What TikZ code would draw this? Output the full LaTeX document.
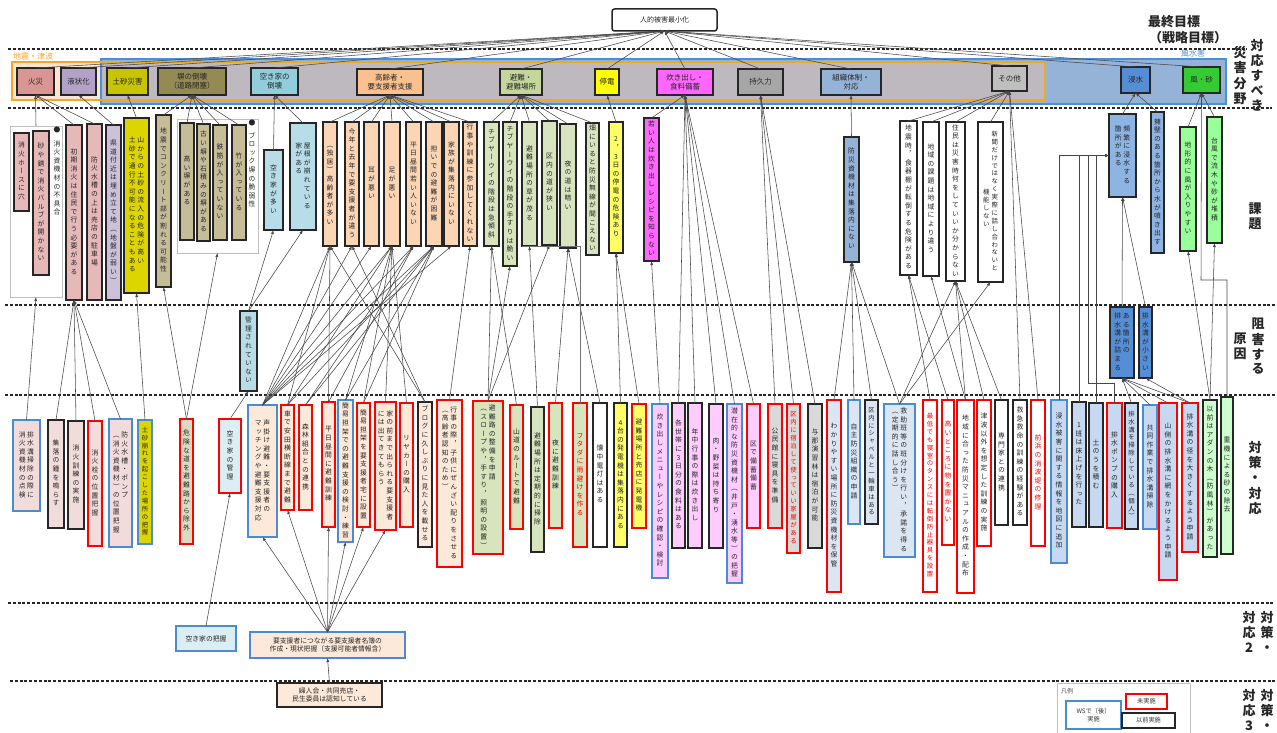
\documentclass[tikz,border=0pt]{standalone}
\usepackage{fontspec}
\setmainfont{Noto Sans CJK JP}
\newfontfamily\vfont[RawFeature=+vert]{Noto Sans CJK JP}
\usetikzlibrary{arrows.meta}

% stack the characters of a string vertically, one per row
\ExplSyntaxOn
\tl_new:N \l__vt_tl
\bool_new:N \l__vt_first_bool
\NewDocumentCommand \vt { m }
 {
  \tl_clear:N \l__vt_tl
  \bool_set_true:N \l__vt_first_bool
  \tl_map_inline:nn { #1 }
   {
    \bool_if:NTF \l__vt_first_bool
     { \bool_set_false:N \l__vt_first_bool }
     { \tl_put_right:Nn \l__vt_tl { \\ } }
    \tl_put_right:Nn \l__vt_tl { ##1 }
   }
  \begin{tabular}[t]{@{}c@{}} \l__vt_tl \end{tabular}
 }
\ExplSyntaxOff

% box from its corners: style, name, x1, y1, x2, y2, text
\newcommand\mkbox[7]{\node[#1,minimum width={(#5-#3)*1pt},minimum height={(#6-#4)*1pt}] (#2) at ({(#3+#5)/2},{(#4+#6)/2}) {#7};}
\newcommand\two[2]{\vt{#2}\hspace{1.5pt}\vt{#1}}

\definecolor{fireC}{HTML}{D99694}
\definecolor{fireI}{HTML}{E6B9B8}
\definecolor{fireM}{HTML}{F2DCDB}
\definecolor{liqC}{HTML}{B3A2C7}
\definecolor{liqI}{HTML}{CCC0DA}
\definecolor{sandC}{HTML}{C8C400}
\definecolor{sandI}{HTML}{DDD500}
\definecolor{wallC}{HTML}{948A54}
\definecolor{wallI}{HTML}{C4BD97}
\definecolor{wallM}{HTML}{DDD9C3}
\definecolor{vacC}{HTML}{92CDDC}
\definecolor{vacI}{HTML}{B7DEE8}
\definecolor{vacM}{HTML}{DAEEF3}
\definecolor{eldC}{HTML}{FAC090}
\definecolor{eldI}{HTML}{FCD5B5}
\definecolor{eldM}{HTML}{FDE9D9}
\definecolor{evaC}{HTML}{C3D69B}
\definecolor{evaI}{HTML}{D7E4BD}
\definecolor{powC}{HTML}{FFFF00}
\definecolor{powI}{HTML}{FFFF66}
\definecolor{cookC}{HTML}{FF66FF}
\definecolor{cookM}{HTML}{FFCCFF}
\definecolor{endC}{HTML}{A6A6A6}
\definecolor{endM}{HTML}{D9D9D9}
\definecolor{orgC}{HTML}{95B3D7}
\definecolor{orgM}{HTML}{DCE6F2}
\definecolor{othC}{HTML}{BFBFBF}
\definecolor{floC}{HTML}{558ED5}
\definecolor{floI}{HTML}{8DB4E2}
\definecolor{floM}{HTML}{C6D9F1}
\definecolor{winC}{HTML}{33CC33}
\definecolor{winI}{HTML}{99FF99}
\definecolor{winM}{HTML}{CCFFCC}
\definecolor{cmblue}{HTML}{4A8CD0}
\definecolor{regOrange}{HTML}{F5A623}
\definecolor{regBlue}{HTML}{4A90D9}
\definecolor{regBlueFill}{HTML}{95B3D7}
\definecolor{regGray}{HTML}{BEB8BF}
\definecolor{regPeach}{HTML}{FDE4D0}

\tikzset{
  basebox/.style={rectangle, inner sep=0pt, outer sep=0pt, align=center,
    font=\vfont\fontsize{6.8}{8.6}\selectfont, text=black!85},
  catbox/.style={basebox, draw=black!85, line width=1.5pt, font=\fontsize{7.5}{9}\selectfont},
  issbox/.style={basebox, draw=black!85, line width=1.3pt},
  grpbox/.style={basebox, draw=black!25, line width=0.9pt, fill=white},
  cR/.style={basebox, draw=red, line width=1.3pt},
  cB/.style={basebox, draw=cmblue, line width=1.3pt},
  cK/.style={basebox, draw=black!85, line width=1.3pt},
  rt/.style={text=red},
  tt8/.style={font=\vfont\fontsize{6.4}{7.9}\selectfont},
  lgd/.style={rectangle, inner sep=0pt, fill=white, line width=1.2pt, align=center,
    font=\fontsize{6.2}{7.5}\selectfont, text=black!80},
  conn/.style={draw=black!72, line width=0.55pt, -{Latex[length=4pt,width=3pt]}},
  connx/.style={draw=black!55, line width=0.55pt},
  dashsep/.style={draw=black!85, dash pattern=on 3pt off 1.8pt, line width=1.2pt},
  lab/.style={inner sep=0pt, align=center, font=\bfseries\fontsize{13}{15}\selectfont, text=black!85},
  vlab/.style={inner sep=0pt, anchor=north, font=\vfont\bfseries\fontsize{13}{14.6}\selectfont, text=black!85},
}

\begin{document}
\begin{tikzpicture}[x=1pt,y=-1pt]
\useasboundingbox (0,0) rectangle (1277,733);
\fill[white] (0,0) rectangle (1277,733);

% ---------- disaster field bands ----------
\fill[regBlueFill] (101,59) rectangle (1226,104);
\fill[regPeach] (12,62) rectangle (101,100);
\fill[regGray] (101,62) rectangle (1045,100);
\draw[regBlue, line width=1.1pt] (101,59) rectangle (1226,104);
\draw[regOrange, line width=1.1pt] (12,62) rectangle (1045,100);
\node[anchor=south west, inner sep=0pt, text=regOrange, font=\fontsize{8}{9}\selectfont] at (13,60) {地震・津波};
\node[anchor=south west, inner sep=0pt, text=regBlue, font=\fontsize{8}{9}\selectfont] at (1181,57) {風水害};

% ---------- separators ----------
\draw[dashsep] (8,49) -- (1247,49);
\draw[dashsep] (8,108) -- (1272,108);
\draw[dashsep] (5,305) -- (1275,305);
\draw[dashsep] (5,395) -- (1275,395);
\draw[dashsep] (8,603) -- (1275,603);
\draw[dashsep] (10,681) -- (1275,681);

% ---------- row labels ----------
\node[lab] at (1174,22) {最終目標};
\node[lab] at (1188,38) {（戦略目標）};
\node[vlab] at (1257,39) {\vt{対応すべき}};
\node[vlab] at (1240,46) {\vt{災害分野}};
\node[vlab] at (1255,203) {\vt{課題}};
\node[vlab] at (1258,318) {\vt{阻害する}};
\node[vlab] at (1240,333) {\vt{原因}};
\node[vlab] at (1255,441) {\vt{対策・対応}};
\node[vlab] at (1267,611) {\vt{対策・}};
\node[vlab] at (1249,611) {\vt{対応2}};
\node[vlab] at (1267,689) {\vt{対策・}};
\node[vlab] at (1249,689) {\vt{対応3}};

% ---------- goal ----------
\mkbox{catbox,fill=white,rounded corners=2.5pt,font=\fontsize{7}{8}\selectfont}{goal}{612}{9}{717}{31}{人的被害最小化}

% ---------- disaster categories ----------
\mkbox{catbox,fill=fireC}{fire}{17}{68}{54}{95}{火災}
\mkbox{catbox,fill=liqC}{liq}{61}{68}{96}{95}{液状化}
\mkbox{catbox,fill=sandC}{sand}{107}{68}{148}{95}{土砂災害}
\mkbox{catbox,fill=wallC}{wall}{158}{68}{226}{95}{塀の倒壊\\（道路閉塞）}
\mkbox{catbox,fill=vacC}{vac}{251}{68}{298}{95}{空き家の\\倒壊}
\mkbox{catbox,fill=eldC}{eld}{357}{69}{423}{95}{高齢者・\\要支援者支援}
\mkbox{catbox,fill=evaC}{eva}{500}{69}{542}{95}{避難・\\避難場所}
\mkbox{catbox,fill=powC}{pow}{595}{69}{619}{95}{停電}
\mkbox{catbox,fill=cookC}{cook}{657}{69}{713}{95}{炊き出し・\\食料備蓄}
\mkbox{catbox,fill=endC}{endu}{738}{69}{783}{95}{持久力}
\mkbox{catbox,fill=orgC}{org}{821}{69}{881}{95}{組織体制・\\対応}
\mkbox{catbox,fill=othC}{oth}{992}{66}{1027}{91}{その他}
\mkbox{catbox,fill=floC}{flood}{1121}{67}{1150}{93}{浸水}
\mkbox{catbox,fill=winC}{wind}{1183}{67}{1220}{93}{風・砂}

% ---------- issues ----------
\mkbox{grpbox}{gA}{10}{126}{62}{297}{}
\mkbox{issbox,fill=fireI}{iHose}{14}{133}{29}{211}{\vt{消火ホースに穴}}
\mkbox{issbox,fill=fireI}{iValve}{33}{131}{49}{275}{\vt{砂や錆で消火バルブが開かない}}
\node[basebox, anchor=north] (bulA) at (57,126) {\vt{●}};
\node[basebox, anchor=north] (txtA) at (57,140) {\vt{消火資機材の不具合}};
\mkbox{issbox,fill=fireI}{iInit}{66}{125}{82}{300}{\vt{初期消火は住民で行う必要がある}}
\mkbox{issbox,fill=fireI}{iTank}{87}{124}{102}{300}{\vt{防火水槽の上は売店の駐車場}}
\mkbox{issbox,fill=liqI}{iPref}{106}{125}{121}{300}{\vt{県道付近は埋め立て地（地盤が弱い）}}
\mkbox{issbox,fill=sandI}{iMount}{124}{118}{149}{293}{\two{山からの土砂の流入の危険が高い}{土砂で通行不可能になることもある}}
\mkbox{issbox,fill=wallI}{iConc}{156}{115}{171}{287}{\vt{地震でコンクリート部が割れる可能性}}
\mkbox{grpbox}{gB}{177}{119}{258}{253}{}
\mkbox{issbox,fill=wallI}{iHigh}{180}{123}{194}{240}{\vt{高い塀がある}}
\mkbox{issbox,fill=wallI}{iOld}{197}{124}{210}{241}{\vt{古い塀や石積みの塀がある}}
\mkbox{issbox,fill=wallI}{iIron}{213}{125}{227}{240}{\vt{鉄筋が入っていない}}
\mkbox{issbox,fill=wallI}{iBamb}{232}{125}{246}{240}{\vt{竹が入っている}}
\node[basebox, anchor=north] (bulB) at (252,119) {\vt{●}};
\node[basebox, anchor=north] (txtB) at (252,132) {\vt{ブロック塀の脆弱性}};
\mkbox{issbox,fill=vacI}{iMany}{264}{150}{283}{230}{\vt{空き家が多い}}
\mkbox{issbox,fill=vacI}{iRoof}{290}{123}{316}{230}{\two{屋根が崩れている}{家がある}}
\mkbox{issbox,fill=eldI}{e1}{323}{122}{337}{246}{\vt{（独居）高齢者が多い}}
\mkbox{issbox,fill=eldI}{e2}{345}{122}{359}{246}{\vt{今年と去年で要支援者が違う}}
\mkbox{issbox,fill=eldI}{e3}{364}{122}{379}{246}{\vt{耳が悪い}}
\mkbox{issbox,fill=eldI}{e4}{384}{122}{400}{246}{\vt{足が悪い}}
\mkbox{issbox,fill=eldI}{e5}{406}{122}{421}{246}{\vt{平日昼間若い人いない}}
\mkbox{issbox,fill=eldI}{e6}{426}{122}{442}{246}{\vt{担いでの避難が困難}}
\mkbox{issbox,fill=eldI}{e7}{444}{122}{459}{246}{\vt{家族が集落内にいない}}
\mkbox{issbox,fill=eldI}{e8}{463}{122}{477}{246}{\vt{行事や訓練に参加してくれない}}
\mkbox{issbox,fill=evaI}{v1}{484}{122}{499}{246}{\vt{チブヤーウイの階段は急傾斜}}
\mkbox{issbox,fill=evaI}{v2}{503}{122}{517}{266}{\vt{チブヤーウイの階段の手すりは脆い}}
\mkbox{issbox,fill=evaI}{v3}{522}{122}{537}{246}{\vt{避難場所の草が茂る}}
\mkbox{issbox,fill=evaI}{v4}{542}{121}{557}{245}{\vt{区内の道が狭い}}
\mkbox{issbox,fill=evaI}{v5}{560}{124}{576}{248}{\vt{夜の道は暗い}}
\mkbox{issbox,fill=evaI}{v6}{586}{123}{599}{255}{\vt{畑にいると防災無線が聞こえない}}
\mkbox{issbox,fill=powI}{p1}{609}{122}{623}{253}{\vt{2，3日の停電の危険あり}}
\mkbox{issbox,fill=cookC}{c1}{644}{118}{659}{261}{\vt{若い人は炊き出しレシピを知らない}}
\mkbox{issbox,fill=orgC}{o1}{844}{137}{859}{262}{\vt{防災資機材は集落内にない}}
\mkbox{issbox,fill=white}{x1}{900}{121}{917}{275}{\vt{地震時，食器棚が転倒する危険がある}}
\mkbox{issbox,fill=white}{x2}{923}{122}{939}{276}{\vt{地域の課題は地域により違う}}
\mkbox{issbox,fill=white}{x3}{946}{122}{965}{281}{\vt{住民は災害時何をしていいか分からない}}
\mkbox{issbox,fill=white,tt8}{x4}{978}{122}{1003}{282}{\raisebox{-58pt}{\vt{機能しない}}\hspace{2pt}\vt{新聞だけではなく実際に話し合わないと}}
\mkbox{issbox,fill=floI}{f1}{1109}{114}{1136}{197}{\two{頻繁に浸水する}{箇所がある}}
\mkbox{issbox,fill=floI}{f2}{1151}{112}{1164}{253}{\vt{擁壁のある箇所から水が噴き出す}}
\mkbox{issbox,fill=winI}{w1}{1180}{127}{1196}{251}{\vt{地形的に風が入りやすい}}
\mkbox{issbox,fill=winI}{w2}{1207}{117}{1222}{243}{\vt{台風で流木や砂が堆積}}

% ---------- obstacles ----------
\mkbox{issbox,fill=vacI}{b1}{240}{311}{257}{391}{\vt{管理されていない}}
\mkbox{issbox,fill=floC}{b2}{1110}{307}{1134}{378}{\two{ある箇所の}{排水溝が詰まる}}
\mkbox{issbox,fill=floC}{b3}{1139}{307}{1152}{378}{\vt{排水溝が小さい}}

% ---------- countermeasures ----------
\mkbox{cB,fill=fireM}{m1}{13}{420}{40}{511}{\two{排水溝掃除の際に}{消火資機材の点検}}
\mkbox{cK,fill=fireM}{m2}{48}{420}{64}{528}{\vt{集落の鐘を鳴らす}}
\mkbox{cK,fill=fireM}{m3}{68}{421}{84}{529}{\vt{消火訓練の実施}}
\mkbox{cR,fill=fireM}{m4}{88}{421}{102}{546}{\vt{消火栓の位置把握}}
\mkbox{cB,fill=fireM}{m5}{109}{419}{132}{547}{\two{防火水槽・ポンプ}{（消火資機材）の位置把握}}
\mkbox{cB,fill=sandI,tt8}{m6}{138}{420}{152}{544}{\vt{土砂崩れを起こした場所の把握}}
\mkbox{cR,fill=wallM}{m7}{180}{419}{193}{544}{\vt{危険な道を避難路から除外}}
\mkbox{cR,fill=vacM}{m8}{219}{419}{241}{493}{\vt{空き家の管理}}
\mkbox{cB,fill=eldM}{m9}{248}{405}{277}{537}{\two{声掛け避難・要支援者の}{マッチングや避難支援対応}}
\mkbox{cR,fill=eldM}{m10}{281}{405}{294}{510}{\vt{車で安田横断線まで避難}}
\mkbox{cR,fill=eldM}{m11}{299}{405}{312}{510}{\vt{森林組合との連携}}
\mkbox{cR,fill=eldM}{m12}{322}{402}{335}{527}{\vt{平日昼間に避難訓練}}
\mkbox{cB,fill=eldM}{m13}{338}{400}{353}{542}{\vt{簡易担架での避難支援の検討・練習}}
\mkbox{cR,fill=eldM}{m14}{357}{403}{370}{527}{\vt{簡易担架を要支援者宅に設置}}
\mkbox{cR,fill=eldM}{m15}{375}{402}{396}{530}{\two{家の前まで出られる要支援者}{には出てきてもらう}}
\mkbox{cR,fill=eldM}{m16}{400}{403}{413}{527}{\vt{リヤカーの購入}}
\mkbox{cK,fill=eldM}{m17}{418}{402}{432}{547}{\vt{ブログに久しぶりに見た人を載せる}}
\mkbox{cR,fill=eldM}{m18}{437}{400}{462}{567}{\two{行事の際，子供にぜんざい配りをさせる}{（高齢者認知のため）}}
\mkbox{cR,fill=evaI}{m19}{473}{401}{503}{554}{\two{避難路の整備を申請}{（スロープや，手すり，照明の設置）}}
\mkbox{cR,fill=evaI}{m20}{510}{405}{523}{529}{\vt{山道のルートで避難}}
\mkbox{cK,fill=evaI}{m21}{531}{407}{544}{552}{\vt{避難場所は定期的に掃除}}
\mkbox{cR,fill=evaI}{m22}{549}{403}{562}{528}{\vt{夜に避難訓練}}
\mkbox{cR,fill=evaI,rt}{m23}{573}{403}{587}{547}{\vt{フタダに雨避けを作る}}
\mkbox{cK,fill=white}{m24}{593}{403}{607}{547}{\vt{懐中電灯はある}}
\mkbox{cK,fill=powI}{m25}{614}{403}{627}{547}{\vt{4台の発電機は集落内にある}}
\mkbox{cR,fill=powI}{m26}{632}{404}{646}{528}{\vt{避難場所と売店に発電機}}
\mkbox{cB,fill=cookM}{m27}{652}{404}{668}{578}{\vt{炊き出しメニューやレシピの確認・検討}}
\mkbox{cK,fill=cookM}{m28}{672}{403}{685}{548}{\vt{各世帯に3日分の食料はある}}
\mkbox{cK,fill=cookM}{m29}{688}{403}{702}{548}{\vt{年中行事の際は炊き出し}}
\mkbox{cK,fill=cookM}{m30}{709}{404}{723}{548}{\vt{肉・野菜は持ち寄り}}
\mkbox{cB,fill=cookM}{m31}{727}{404}{742}{583}{\vt{潜在的な防災資機材（井戸・湧水等）の把握}}
\mkbox{cR,fill=cookM}{m32}{747}{404}{760}{528}{\vt{区で備蓄備蓄}}
\mkbox{cR,fill=endM}{m33}{768}{404}{782}{528}{\vt{公民館に寝具を準備}}
\mkbox{cR,fill=endM,rt,tt8}{m34}{787}{404}{800}{553}{\vt{区内に宿泊して使っていい家屋がある}}
\mkbox{cK,fill=endM}{m35}{808}{404}{822}{548}{\vt{与那演習林は宿泊が可能}}
\mkbox{cR,fill=orgM}{m36}{827}{400}{841}{592}{\vt{わかりやすい場所に防災資機材を保管}}
\mkbox{cB,fill=orgM}{m37}{848}{400}{860}{524}{\vt{自主防災組織の申請}}
\mkbox{cK,fill=orgM,tt8}{m38}{865}{400}{878}{524}{\vt{区内にシャベルと一輪車はある}}
\mkbox{cB,fill=orgM}{m39}{884}{404}{915}{557}{\two{救助班等の班分けを行い，承諾を得る}{（定期的に話し合う）}}
\mkbox{cR,fill=white,rt,tt8}{m40}{923}{400}{937}{592}{\vt{最低でも寝室のタンスには転倒防止器具を設置}}
\mkbox{cR,fill=white,rt}{m41}{942}{400}{954}{545}{\vt{高いところに物を置かない}}
\mkbox{cR,fill=white}{m42}{957}{400}{974}{593}{\vt{地域に合った防災マニュアルの作成・配布}}
\mkbox{cR,fill=white}{m43}{977}{400}{991}{546}{\vt{津波以外を想定した訓練の実施}}
\mkbox{cK,fill=white}{m44}{995}{400}{1008}{525}{\vt{専門家との連携}}
\mkbox{cK,fill=white}{m45}{1013}{400}{1027}{525}{\vt{救急救命の訓練の経験がある}}
\mkbox{cR,fill=white,rt}{m46}{1031}{400}{1045}{546}{\vt{前浜の消波堤の修理}}
\mkbox{cB,fill=floM}{m47}{1051}{400}{1067}{563}{\vt{浸水被害に関する情報を地図に追加}}
\mkbox{cK,fill=floM}{m48}{1072}{402}{1086}{527}{\vt{1班は床上げを行った}}
\mkbox{cK,fill=floM}{m49}{1089}{403}{1103}{527}{\vt{土のうを積む}}
\mkbox{cR,fill=floM}{m50}{1107}{403}{1122}{528}{\vt{排水ポンプの購入}}
\mkbox{cK,fill=floM,tt8}{m51}{1125}{403}{1138}{529}{\vt{排水溝を掃除している（個人）}}
\mkbox{cB,fill=floM}{m52}{1143}{405}{1157}{529}{\vt{共同作業で排水溝掃除}}
\mkbox{cR,fill=floM}{m53}{1159}{403}{1177}{580}{\vt{山側の排水溝に網をかけるよう申請}}
\mkbox{cR,fill=floM}{m54}{1182}{403}{1198}{552}{\vt{排水溝の径を大きくするよう申請}}
\mkbox{cK,fill=winM}{m55}{1203}{400}{1217}{557}{\vt{以前はアダンの木（防風林）があった}}
\mkbox{cK,fill=winM}{m56}{1221}{397}{1233}{554}{\vt{重機による砂の除去}}

% ---------- countermeasures 2 and 3 ----------
\mkbox{cB,fill=vacM,font=\fontsize{6.8}{8.2}\selectfont}{n1}{176}{626}{236}{651}{空き家の把握}
\mkbox{cB,fill=eldM,font=\fontsize{6.8}{8.6}\selectfont}{n2}{250}{632}{405}{658}{要支援者につながる要支援者名簿の\\作成・現状把握（支援可能者情報含）}
\mkbox{cK,fill=eldM,font=\fontsize{6.8}{8.6}\selectfont}{n3}{277}{683}{382}{707}{婦人会・共同売店・\\民生委員は認知している}

% ---------- legend ----------
\draw[black!25, line width=0.8pt] (1057,733) -- (1057,683) -- (1190,683) -- (1190,733);
\node[anchor=west, inner sep=0pt, font=\fontsize{6}{7}\selectfont, text=black!70] (lgT) at (1061,691) {凡例};
\mkbox{lgd,draw=cmblue}{lgB}{1066}{701}{1121}{729}{WSで（後）\\実施}
\mkbox{lgd,draw=red}{lgR}{1126}{694}{1167}{709}{未実施}
\mkbox{lgd,draw=black!85}{lgK}{1122}{713}{1175}{728}{以前実施}

% ---------- connectors ----------
\foreach \n in {fire,liq,sand,wall,vac,eld,eva,pow,cook,endu,org,oth,flood,wind}
  \draw[conn] (\n.north) -- (goal.south);

\foreach \a/\b in {gA/fire,iInit/fire,iTank/fire,iPref/liq,iMount/sand,
  iConc/wall,iHigh/wall,iOld/wall,iIron/wall,iBamb/wall,iMany/vac,iRoof/vac,
  e1/eld,e2/eld,e3/eld,e4/eld,e5/eld,e6/eld,e7/eld,e8/eld,
  v1/eva,v2/eva,v3/eva,v4/eva,v5/eva,v6/eva,p1/pow,c1/cook,o1/org,
  x1/oth,x2/oth,x3/oth,x4/oth,f1/flood,f2/flood,w1/wind,w2/wind}
  \draw[conn] (\a.north) -- (\b.south);

\foreach \a/\b in {m1/gA,m2/iInit,m3/iInit,m4/iInit,m5/iInit,m6/iMount,m7/iConc,m7/gB,
  m8/b1,b1/iMany,b1/iRoof,
  m9/e1,m9/e2,m9/e3,m9/e4,m9/e5,m9/e6,m9/e7,m10/e1,m10/e4,m10/e6,m11/e5,m11/e6,
  m12/e1,m12/e5,m13/e4,m13/e6,m14/e4,m14/e6,m15/e4,m16/e4,m17/e1,m17/e2,m18/e8,
  m19/v1,m19/v2,m19/v4,m20/v1,m21/v3,m22/v5,m24/v5,m25/p1,m26/p1,m27/c1,
  m28/cook,m29/cook,m30/cook,m31/cook,m32/cook,m33/endu,m34/endu,m35/endu,
  m36/o1,m37/o1,m38/o1,m39/o1,m39/x3,m39/x4,m40/x1,m41/x1,m42/x2,m42/x3,m43/x3,m44/x3,
  m45/oth,m46/oth,b2/f1,b3/f1,m51/b2,m52/b2,m53/b2,m54/b2,m54/b3,m55/w1,m55/w2,
  n1/m8,n2/m9,n2/m10,n2/m12,n2/m13,n2/m14,n2/m15,n3/n2}
  \draw[conn] (\a.north) -- (\b.south);

\draw[conn] (m47.north) |- (f1.west);
\draw[conn] (m48.north) |- (f1.west);
\draw[conn] (m49.north) |- (f1.west);
\draw[conn] (m50.north) |- (1088,383) |- (f1.west);
\draw[conn] (m56.north) |- (1201,280) -- (wind.south);
\draw[connx] (m23.north) |- (v3.south west);
\end{tikzpicture}
\end{document}
